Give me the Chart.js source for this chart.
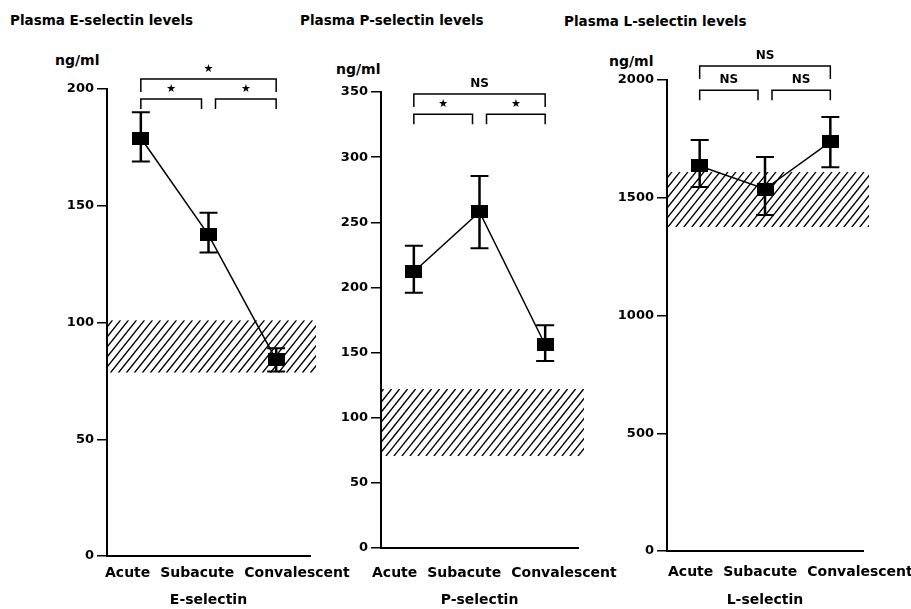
<!DOCTYPE html>
<html>
<head>
<meta charset="utf-8">
<title>Plasma selectin levels</title>
<script src="https://cdn.jsdelivr.net/npm/chart.js@4.4.1/dist/chart.umd.min.js"></script>
<style>
  body { margin: 0; background: #fff; }
  #tela { position: relative; width: 911px; height: 609px; overflow: hidden; background: #fff; }
  #tela canvas { position: absolute; top: 0; }
  .txt { position: absolute; font-family: "DejaVu Sans", sans-serif; font-weight: bold; color: #000; white-space: nowrap; line-height: 1; }
  .titulo { font-size: 13.5px; }
  .unidade { font-size: 14px; }
</style>
</head>
<body>
<div id="tela">
  <div class="txt titulo" style="left:10px;top:14px">Plasma E-selectin levels</div>
  <div class="txt titulo" style="left:300px;top:14px">Plasma P-selectin levels</div>
  <div class="txt titulo" style="left:564px;top:15px">Plasma L-selectin levels</div>
  <div class="txt unidade" style="left:55px;top:53px">ng/ml</div>
  <div class="txt unidade" style="left:336px;top:62px">ng/ml</div>
  <div class="txt unidade" style="left:609px;top:54px">ng/ml</div>

  <canvas id="graficoE" width="360" height="609" style="left:0"></canvas>
  <canvas id="graficoP" width="330" height="609" style="left:290px"></canvas>
  <canvas id="graficoL" width="331" height="609" style="left:580px"></canvas>
</div>

<script>
// ================= DADOS =================
const categorias = ["Acute", "Subacute", "Convalescent"];

// E-selectin (ng/ml): média, limite superior e inferior da barra de erro
const eMedia = [179, 137.5, 84];
const eSup = [190, 147, 89];
const eInf = [169, 130, 79];
const eNormal = [78.5, 101];
const eEixo = [0, 200, 50];
const eComparacoes = [
  { de: 0, ate: 1, nivel: 195.7, texto: "★" },
  { de: 1, ate: 2, nivel: 195.7, texto: "★" },
  { de: 0, ate: 2, nivel: 204.3, texto: "★" }
];

// P-selectin (ng/ml)
const pMedia = [212, 258, 156];
const pSup = [232, 285.5, 171];
const pInf = [196, 230, 143.5];
const pNormal = [70.5, 122];
const pEixo = [0, 350, 50];
const pComparacoes = [
  { de: 0, ate: 1, nivel: 333, texto: "★" },
  { de: 1, ate: 2, nivel: 333, texto: "★" },
  { de: 0, ate: 2, nivel: 348.5, texto: "NS" }
];

// L-selectin (ng/ml)
const lMedia = [1635, 1537, 1737];
const lSup = [1745, 1673, 1843];
const lInf = [1546, 1427, 1630];
const lNormal = [1376, 1610];
const lEixo = [0, 2000, 500];
const lComparacoes = [
  { de: 0, ate: 1, nivel: 1957, texto: "NS" },
  { de: 1, ate: 2, nivel: 1957, texto: "NS" },
  { de: 0, ate: 2, nivel: 2059, texto: "NS" }
];

// ================= ESTILO =================
const fonte = "'DejaVu Sans', sans-serif";
const preto = "#000";

// marcador quadrado preenchido
const marcador = document.createElement("canvas");
marcador.width = 17;
marcador.height = 13;
const mctx = marcador.getContext("2d");
mctx.fillStyle = preto;
mctx.fillRect(0, 0, 17, 13);

// ================= PLUGIN (faixa normal, barras, colchetes, rótulos) =================
function criarExtras(p) {
  return {
    id: "extras",
    beforeDatasetsDraw(chart) {
      const { ctx, chartArea: a, scales: { x, y } } = chart;

      // faixa normal hachurada
      const yTopo = y.getPixelForValue(p.normal[1]);
      const yBase = y.getPixelForValue(p.normal[0]);
      const dir = a.right + 6;
      const h = yBase - yTopo;
      ctx.save();
      ctx.beginPath();
      ctx.rect(a.left + 1, yTopo, dir - a.left - 1, h);
      ctx.clip();
      ctx.strokeStyle = preto;
      ctx.lineWidth = 1.4;
      ctx.beginPath();
      for (let px = a.left - h; px < dir + 2; px += 8) {
        ctx.moveTo(px, yBase);
        ctx.lineTo(px + h * 0.8, yTopo);
      }
      ctx.stroke();
      ctx.restore();

      // barras de erro
      ctx.save();
      ctx.strokeStyle = preto;
      p.media.forEach((v, i) => {
        const px = x.getPixelForValue(i);
        const ys = y.getPixelForValue(p.sup[i]);
        const yi = y.getPixelForValue(p.inf[i]);
        ctx.lineWidth = 2.5;
        ctx.beginPath();
        ctx.moveTo(px, ys);
        ctx.lineTo(px, yi);
        ctx.stroke();
        ctx.lineWidth = 2;
        ctx.beginPath();
        ctx.moveTo(px - 9, ys); ctx.lineTo(px + 9, ys);
        ctx.moveTo(px - 9, yi); ctx.lineTo(px + 9, yi);
        ctx.stroke();
      });
      ctx.restore();
    },
    afterDraw(chart) {
      const { ctx, chartArea: a, scales: { x, y } } = chart;
      ctx.save();
      ctx.strokeStyle = preto;
      ctx.fillStyle = preto;

      // colchetes de comparação
      p.comparacoes.forEach(c => {
        let x1 = x.getPixelForValue(c.de);
        let x2 = x.getPixelForValue(c.ate);
        const vizinhos = c.ate - c.de === 1;
        if (vizinhos) {
          if (c.de === 1) x1 += 7; else x2 -= 7;
        }
        const yb = y.getPixelForValue(c.nivel);
        const queda = vizinhos ? 10 : 13;
        ctx.lineWidth = 1.5;
        ctx.beginPath();
        ctx.moveTo(x1, yb + queda);
        ctx.lineTo(x1, yb);
        ctx.lineTo(x2, yb);
        ctx.lineTo(x2, yb + queda);
        ctx.stroke();
        ctx.font = c.texto === "NS" ? "bold 12px " + fonte : "11px " + fonte;
        ctx.textAlign = "center";
        ctx.textBaseline = "middle";
        ctx.fillText(c.texto, (x1 + x2) / 2, yb - 10);
      });

      // rótulos das categorias, lado a lado como no original
      ctx.font = "bold 14px " + fonte;
      ctx.textAlign = "left";
      ctx.textBaseline = "middle";
      let cx = a.left + p.desvioRotulos;
      categorias.forEach(c => {
        ctx.fillText(c, cx, a.bottom + p.alturaRotulos);
        cx += ctx.measureText(c).width + 10;
      });
      ctx.restore();
    }
  };
}

// ================= GRÁFICOS =================
function criarPainel(id, p) {
  const canvas = document.getElementById(id);
  return new Chart(canvas, {
    type: "line",
    data: {
      labels: categorias,
      datasets: [{
        data: p.media,
        borderColor: preto,
        borderWidth: 1.5,
        tension: 0,
        pointStyle: marcador,
        pointRadius: 8,
        pointHoverRadius: 8,
        clip: false
      }]
    },
    options: {
      responsive: false,
      animation: false,
      events: [],
      layout: { padding: { top: p.topo, right: canvas.width - p.direita, left: 0, bottom: 0 } },
      plugins: { legend: { display: false }, tooltip: { enabled: false } },
      scales: {
        x: {
          offset: true,
          grid: { display: false, drawTicks: false },
          border: { color: preto, width: 2 },
          ticks: { display: false },
          title: {
            display: true,
            text: p.titulo,
            color: preto,
            font: { family: fonte, size: 14, weight: "bold" },
            padding: { top: 0, bottom: 0 }
          },
          afterFit: s => { s.height = canvas.height - p.base; }
        },
        y: {
          min: p.eixo[0],
          max: p.eixo[1],
          ticks: {
            stepSize: p.eixo[2],
            color: preto,
            padding: 3,
            font: { family: fonte, size: 13, weight: "bold" },
            callback: v => String(v)
          },
          grid: { drawOnChartArea: false, tickLength: 10, color: preto, lineWidth: 1.5 },
          border: { color: preto, width: 2 },
          afterFit: s => { s.width = p.larguraY; }
        }
      }
    },
    plugins: [criarExtras(p)]
  });
}

criarPainel("graficoE", {
  titulo: "E-selectin", media: eMedia, sup: eSup, inf: eInf, normal: eNormal,
  eixo: eEixo, comparacoes: eComparacoes,
  larguraY: 107, direita: 310, topo: 89, base: 556, desvioRotulos: -2, alturaRotulos: 17
});

criarPainel("graficoP", {
  titulo: "P-selectin", media: pMedia, sup: pSup, inf: pInf, normal: pNormal,
  eixo: pEixo, comparacoes: pComparacoes,
  larguraY: 91, direita: 288, topo: 92, base: 548, desvioRotulos: -9, alturaRotulos: 25
});

criarPainel("graficoL", {
  titulo: "L-selectin", media: lMedia, sup: lSup, inf: lInf, normal: lNormal,
  eixo: lEixo, comparacoes: lComparacoes,
  larguraY: 87, direita: 283, topo: 80, base: 551, desvioRotulos: 1, alturaRotulos: 21
});
</script>
</body>
</html>
